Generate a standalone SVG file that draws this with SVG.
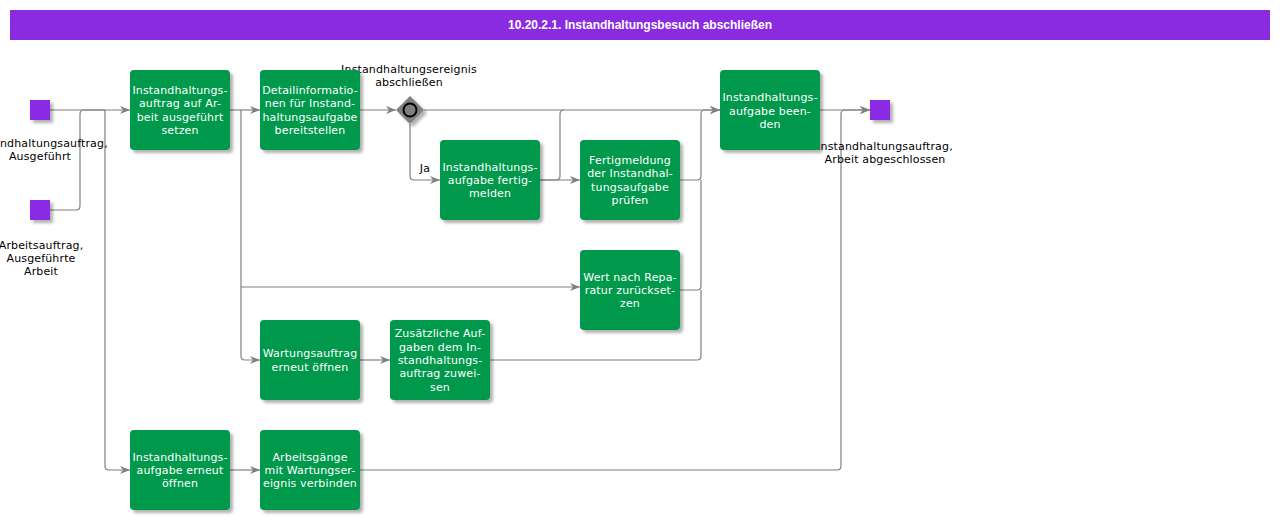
<svg xmlns="http://www.w3.org/2000/svg" width="1280" height="520" viewBox="0 0 1280 520">
<style>
.task{fill:#00994c}
.ev{fill:#8a2be2}
.tt{font-family:"DejaVu Sans",Verdana,sans-serif;font-size:11px;letter-spacing:0.15px;fill:#fff;text-anchor:middle}
.lb{font-family:"DejaVu Sans",Verdana,sans-serif;font-size:11px;letter-spacing:0.15px;fill:#000;text-anchor:middle}
.cn{fill:none;stroke:#808080;stroke-width:1.2}
.title{font-family:"Liberation Sans",Arial,sans-serif;font-size:12px;font-weight:bold;fill:#fff;text-anchor:middle}
</style>
<defs>
<filter id="sh" x="-20%" y="-20%" width="150%" height="150%">
<feDropShadow dx="3" dy="3" stdDeviation="1.5" flood-color="#000" flood-opacity="0.3"/>
</filter>
<marker id="ar" markerUnits="userSpaceOnUse" markerWidth="11" markerHeight="9" refX="10" refY="4" orient="auto">
<path d="M0,0 L10,4 L0,8 L3,4 z" fill="#808080"/>
</marker>
</defs>
<rect width="1280" height="520" fill="#fff"/>
<g id="title">
<rect x="10" y="10" width="1260" height="30" fill="#8a2be2"/>
<text class="title" x="640" y="29">10.20.2.1. Instandhaltungsbesuch abschließen</text>
</g>
<g id="connectors">
<path class="cn" d="M50,110 H130" marker-end="url(#ar)"/>
<path class="cn" d="M50,210 H76 Q80,210 80,206 V114 Q80,110 84,110 H105"/>
<path class="cn" d="M105,110 V466 Q105,470 109,470 H130" marker-end="url(#ar)"/>
<path class="cn" d="M230,110 H260" marker-end="url(#ar)"/>
<path class="cn" d="M241,110 V356 Q241,360 245,360 H260" marker-end="url(#ar)"/>
<path class="cn" d="M241,287 H580" marker-end="url(#ar)"/>
<path class="cn" d="M360,110 H396" marker-end="url(#ar)"/>
<path class="cn" d="M424,110 H720" marker-end="url(#ar)"/>
<path class="cn" d="M410,124 V176 Q410,180 414,180 H440" marker-end="url(#ar)"/>
<path class="cn" d="M540,180 H580" marker-end="url(#ar)"/>
<path class="cn" d="M540,180 H556 Q560,180 560,176 V114 Q560,110 564,110"/>
<path class="cn" d="M680,180 H697 Q701,180 701,176 V114 Q701,110 705,110 H720" marker-end="url(#ar)"/>
<path class="cn" d="M680,290 H697 Q701,290 701,286 V180"/>
<path class="cn" d="M360,360 H390" marker-end="url(#ar)"/>
<path class="cn" d="M490,360 H697 Q701,360 701,356 V290"/>
<path class="cn" d="M820,110 H870" marker-end="url(#ar)"/>
<path class="cn" d="M230,470 H260" marker-end="url(#ar)"/>
<path class="cn" d="M360,470 H837 Q841,470 841,466 V114 Q841,110 845,110 H870" marker-end="url(#ar)"/>
<text class="lb" x="425" y="172">Ja</text>
</g>
<g id="start1">
<rect class="ev" x="30" y="100" width="20" height="20" filter="url(#sh)"/>
<text class="lb" x="40" y="147">Instandhaltungsauftrag,</text>
<text class="lb" x="40" y="160">Ausgeführt</text>
</g>
<g id="start2">
<rect class="ev" x="30" y="200" width="20" height="20" filter="url(#sh)"/>
<text class="lb" x="41" y="249">Arbeitsauftrag,</text>
<text class="lb" x="41" y="262">Ausgeführte</text>
<text class="lb" x="41" y="275">Arbeit</text>
</g>
<g id="end1">
<rect class="ev" x="870" y="100" width="20" height="20" filter="url(#sh)"/>
<text class="lb" x="885" y="150">Instandhaltungsauftrag,</text>
<text class="lb" x="885" y="163">Arbeit abgeschlossen</text>
</g>
<g id="gateway">
<polygon points="410,96 424,110 410,124 396,110" fill="#808080" filter="url(#sh)"/>
<circle cx="410" cy="110" r="6.5" fill="none" stroke="#000" stroke-width="2"/>
<text class="lb" x="409" y="73">Instandhaltungsereignis</text>
<text class="lb" x="409" y="86">abschließen</text>
</g>
<g id="t1">
<rect class="task" x="130" y="70" width="100" height="80" rx="4" filter="url(#sh)"/>
<text class="tt" x="180" y="94">Instandhaltungs-</text>
<text class="tt" x="180" y="107.3">auftrag auf Ar-</text>
<text class="tt" x="180" y="120.7">beit ausgeführt</text>
<text class="tt" x="180" y="134.1">setzen</text>
</g>
<g id="t2">
<rect class="task" x="260" y="70" width="100" height="80" rx="4" filter="url(#sh)"/>
<text class="tt" x="310" y="94">Detailinformatio-</text>
<text class="tt" x="310" y="107.3">nen für Instand-</text>
<text class="tt" x="310" y="120.7">haltungsaufgabe</text>
<text class="tt" x="310" y="134.1">bereitstellen</text>
</g>
<g id="t3">
<rect class="task" x="440" y="140" width="100" height="80" rx="4" filter="url(#sh)"/>
<text class="tt" x="490" y="170.6">Instandhaltungs-</text>
<text class="tt" x="490" y="184">aufgabe fertig-</text>
<text class="tt" x="490" y="197.4">melden</text>
</g>
<g id="t4">
<rect class="task" x="580" y="140" width="100" height="80" rx="4" filter="url(#sh)"/>
<text class="tt" x="630" y="164">Fertigmeldung</text>
<text class="tt" x="630" y="177.3">der Instandhal-</text>
<text class="tt" x="630" y="190.7">tungsaufgabe</text>
<text class="tt" x="630" y="204.1">prüfen</text>
</g>
<g id="t5">
<rect class="task" x="720" y="70" width="100" height="80" rx="4" filter="url(#sh)"/>
<text class="tt" x="770" y="101.2">Instandhaltungs-</text>
<text class="tt" x="770" y="114.6">aufgabe been-</text>
<text class="tt" x="770" y="128">den</text>
</g>
<g id="t6">
<rect class="task" x="580" y="250" width="100" height="80" rx="4" filter="url(#sh)"/>
<text class="tt" x="630" y="280.6">Wert nach Repa-</text>
<text class="tt" x="630" y="294">ratur zurückset-</text>
<text class="tt" x="630" y="307.4">zen</text>
</g>
<g id="t7">
<rect class="task" x="260" y="320" width="100" height="80" rx="4" filter="url(#sh)"/>
<text class="tt" x="310" y="357.3">Wartungsauftrag</text>
<text class="tt" x="310" y="370.7">erneut öffnen</text>
</g>
<g id="t8">
<rect class="task" x="390" y="320" width="100" height="80" rx="4" filter="url(#sh)"/>
<text class="tt" x="440" y="337.2">Zusätzliche Auf-</text>
<text class="tt" x="440" y="350.6">gaben dem In-</text>
<text class="tt" x="440" y="364">standhaltungs-</text>
<text class="tt" x="440" y="377.4">auftrag zuwei-</text>
<text class="tt" x="440" y="390.8">sen</text>
</g>
<g id="t9">
<rect class="task" x="130" y="430" width="100" height="80" rx="4" filter="url(#sh)"/>
<text class="tt" x="180" y="460.6">Instandhaltungs-</text>
<text class="tt" x="180" y="474">aufgabe erneut</text>
<text class="tt" x="180" y="487.4">öffnen</text>
</g>
<g id="t10">
<rect class="task" x="260" y="430" width="100" height="80" rx="4" filter="url(#sh)"/>
<text class="tt" x="310" y="460.6">Arbeitsgänge</text>
<text class="tt" x="310" y="474">mit Wartungser-</text>
<text class="tt" x="310" y="487.4">eignis verbinden</text>
</g>
</svg>
